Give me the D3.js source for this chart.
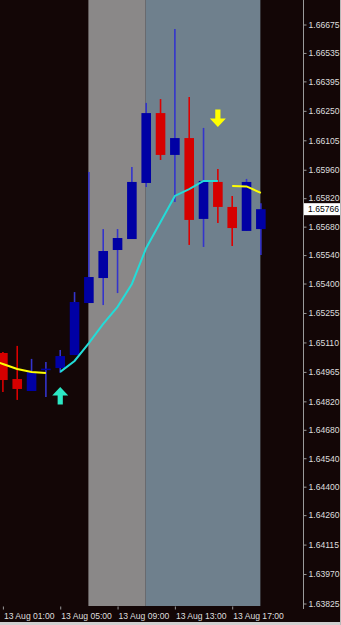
<!DOCTYPE html>
<html>
<head>
<meta charset="utf-8">
<script src="https://cdn.jsdelivr.net/npm/d3@7"></script>
<style>
  body { margin: 0; background: #130606; }
  svg { display: block; }
  .axis text { font-family: "Liberation Sans", Arial, sans-serif; font-size: 8.6px; fill: #dedede; }
  .axis path, .axis line { stroke: #9a9a9a; }
</style>
</head>
<body>
<script>
// hourly bars, 13 Aug
var hours  = ["01:00","02:00","03:00","04:00","05:00","06:00","07:00","08:00","09:00","10:00",
              "11:00","12:00","13:00","14:00","15:00","16:00","17:00","18:00","19:00"];
var opens  = [1.65058,1.64930,1.64871,1.64979,1.64984,1.65048,1.65304,1.65427,1.65565,1.65619,
              1.65895,1.66239,1.66033,1.66116,1.65718,1.65900,1.65777,1.65659,1.65668];
var highs  = [1.65063,1.65093,1.65029,1.65014,1.65073,1.65358,1.65949,1.65668,1.65668,1.65974,
              1.66289,1.66308,1.66653,1.66318,1.66166,1.65964,1.65831,1.65915,1.65795];
var lows   = [1.64866,1.64827,1.64871,1.64842,1.64960,1.65048,1.65304,1.65294,1.65353,1.65619,
              1.65875,1.66008,1.65801,1.65590,1.65580,1.65698,1.65585,1.65659,1.65541];
var closes = [1.64925,1.64881,1.64965,1.64981,1.65043,1.65309,1.65432,1.65560,1.65624,1.65900,
              1.66239,1.66033,1.66116,1.65713,1.65905,1.65777,1.65673,1.65900,1.65766];

// moving average, coloured by slope (yellow = down, cyan = up)
var maHours  = ["00:00","01:00","02:00","03:00","04:00","05:00","06:00","07:00","08:00","09:00",
                "10:00","11:00","12:00","13:00","14:00","15:00","16:00","17:00","18:00","19:00"];
var maYellow = [1.65029,1.65004,1.64979,1.64965,1.64960,null,null,null,null,null,
                null,null,null,null,null,null,null,1.65880,1.65878,1.65846];
var maCyan   = [null,null,null,null,null,1.64965,1.65019,1.65107,1.65201,1.65285,
                1.65398,1.65575,1.65703,1.65831,1.65865,1.65905,1.65905,null,null,null];

// signal arrows
var signalHours  = ["05:00","16:00"];
var signalPrices = [1.64891,1.66170];
var signalDirs   = ["up","down"];

// session boxes
var sessionStarts = ["07:00","11:00"];
var sessionEnds   = ["11:00","19:00"];
var sessionColors = ["#8a8888","#6f808d"];

var priceTicks = [1.66675,1.66535,1.66395,1.66250,1.66105,1.65960,1.65820,1.65680,1.65540,1.65400,
                  1.65255,1.65110,1.64965,1.64820,1.64680,1.64540,1.64400,1.64260,1.64115,1.63970,1.63825];
var timeTicks = ["01:00","05:00","09:00","13:00","17:00"];
var lastPrice = 1.65766;

var width = 341, height = 625;
var plotW = 303, plotH = 606;

function t(h) { return new Date(Date.UTC(2013, 7, 13, +h.slice(0, 2), +h.slice(3))); }

var x = d3.scaleUtc()
    .domain([t("01:00"), t("17:00")])
    .range([2.9, 232.2]);

var y = d3.scaleLinear()
    .domain([1.63825, 1.66675])
    .range([603.5, 24.5]);

var svg = d3.select("body").append("svg")
    .attr("width", width)
    .attr("height", height);

svg.append("rect")
    .attr("width", width).attr("height", height)
    .attr("fill", "#130606");

svg.append("clipPath").attr("id", "plot")
  .append("rect").attr("width", plotW).attr("height", plotH);

var g = svg.append("g").attr("clip-path", "url(#plot)");

// sessions
g.selectAll("rect.session")
    .data(sessionStarts)
    .enter().append("rect")
    .attr("class", "session")
    .attr("x", function(d) { return x(t(d)) - 0.5; })
    .attr("width", function(d, i) { return x(t(sessionEnds[i])) - x(t(d)); })
    .attr("y", 0)
    .attr("height", plotH)
    .attr("fill", function(d, i) { return sessionColors[i]; });

// candles
var bars = hours.map(function(h, i) {
  return {t: t(h), o: opens[i], h: highs[i], l: lows[i], c: closes[i]};
});
var bodyW = 9.6;

var candle = g.selectAll("g.candle")
    .data(bars)
    .enter().append("g")
    .attr("class", "candle");

candle.append("line")
    .attr("x1", function(d) { return x(d.t); })
    .attr("x2", function(d) { return x(d.t); })
    .attr("y1", function(d) { return y(d.h); })
    .attr("y2", function(d) { return y(d.l); })
    .attr("stroke", function(d) { return d.c >= d.o ? "#3434cc" : "#dc0000"; })
    .attr("stroke-width", 1.6);

candle.append("rect")
    .attr("x", function(d) { return x(d.t) - bodyW / 2; })
    .attr("width", bodyW)
    .attr("y", function(d) { return y(Math.max(d.o, d.c)); })
    .attr("height", function(d) { return Math.max(1.5, Math.abs(y(d.o) - y(d.c))); })
    .attr("fill", function(d) { return d.c >= d.o ? "#0000a4" : "#d60000"; });

// moving average
var maLine = function(vals) {
  return d3.line()
      .defined(function(d, i) { return vals[i] != null; })
      .x(function(d) { return x(t(d)); })
      .y(function(d, i) { return y(vals[i]); });
};

g.append("path")
    .datum(maHours)
    .attr("d", maLine(maYellow))
    .attr("fill", "none")
    .attr("stroke", "#ffff00")
    .attr("stroke-width", 2);

g.append("path")
    .datum(maHours)
    .attr("d", maLine(maCyan))
    .attr("fill", "none")
    .attr("stroke", "#22dcd8")
    .attr("stroke-width", 2);

// arrows
var arrowPath = "M0,0L8,8.5L2.6,8.5L2.6,17.5L-2.6,17.5L-2.6,8.5L-8,8.5Z";
g.selectAll("path.signal")
    .data(signalHours)
    .enter().append("path")
    .attr("class", "signal")
    .attr("d", arrowPath)
    .attr("transform", function(d, i) {
      return "translate(" + x(t(d)) + "," + y(signalPrices[i]) + ")" +
        (signalDirs[i] == "down" ? " scale(1,-1)" : "");
    })
    .attr("fill", function(d, i) { return signalDirs[i] == "up" ? "#2ce8c4" : "#ffff00"; });

// price axis
var yAxis = svg.append("g")
    .attr("class", "axis")
    .attr("transform", "translate(" + (plotW + 0.5) + ",0)")
    .call(d3.axisRight(y)
      .tickValues(priceTicks)
      .tickFormat(d3.format(".5f"))
      .tickSize(3)
      .tickPadding(2));
yAxis.select(".domain").attr("d", "M0,0V609");

// time axis
var xAxis = svg.append("g")
    .attr("class", "axis")
    .attr("transform", "translate(0," + (plotH + 0.5) + ")")
    .call(d3.axisBottom(x)
      .tickValues(timeTicks.map(t))
      .tickFormat(d3.utcFormat("%d %b %H:%M"))
      .tickSize(3)
      .tickPadding(2));
xAxis.select(".domain").remove();
xAxis.selectAll("text")
    .attr("text-anchor", "start")
    .attr("dx", 0)
    .attr("x", 0.5)
    .attr("dy", "0.9em");

// last price tag
var tag = svg.append("g")
    .attr("transform", "translate(304," + y(lastPrice) + ")");
tag.append("rect")
    .attr("x", 0).attr("y", -6)
    .attr("width", 36).attr("height", 12)
    .attr("fill", "#ffffff");
tag.append("text")
    .attr("x", 4).attr("dy", "0.33em")
    .attr("font-family", "Liberation Sans, Arial, sans-serif")
    .attr("font-size", "8.6px")
    .attr("fill", "#000")
    .text(d3.format(".5f")(lastPrice));

// window frame
svg.append("rect")
    .attr("x", 0).attr("y", 622).attr("width", width).attr("height", 3)
    .attr("fill", "#d0d0d0");
svg.append("rect")
    .attr("x", 340).attr("y", 0).attr("width", 1).attr("height", height)
    .attr("fill", "#b8b8b8");
</script>
</body>
</html>
